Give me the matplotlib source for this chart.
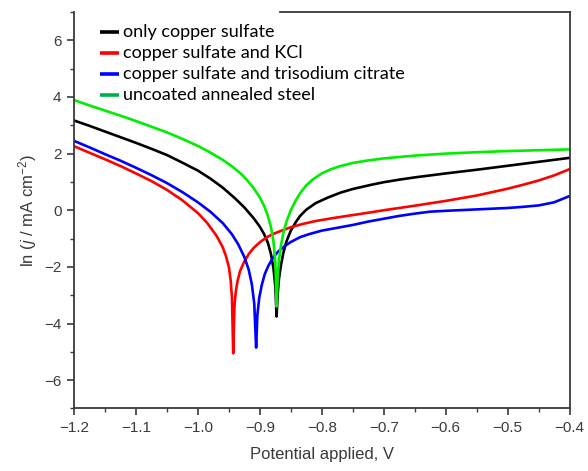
import numpy as np
import matplotlib
matplotlib.use("Agg")
import matplotlib.pyplot as plt

plt.rcParams['font.family'] = 'Liberation Sans'
plt.rcParams['mathtext.fontset'] = 'custom'
plt.rcParams['mathtext.rm'] = 'Liberation Sans'
plt.rcParams['mathtext.it'] = 'Liberation Sans:italic'

# Tafel curves: potential (V) and ln of current density
E_cu = [-1.20, -1.175, -1.15, -1.125, -1.10, -1.075, -1.05, -1.025, -1.00, -0.98, -0.96,
        -0.94, -0.925, -0.91, -0.90, -0.893, -0.887, -0.882, -0.878, -0.875, -0.873,
        -0.871, -0.869, -0.866, -0.862, -0.857, -0.85, -0.842, -0.835, -0.825, -0.81,
        -0.79, -0.77, -0.75, -0.72, -0.70, -0.675, -0.65, -0.60, -0.55, -0.50, -0.45, -0.40]
ln_cu = [3.17, 2.98, 2.78, 2.58, 2.38, 2.17, 1.95, 1.68, 1.4, 1.12, 0.8,
         0.42, 0.1, -0.28, -0.58, -0.85, -1.15, -1.55, -2.05, -2.7, -3.75,
         -2.9, -2.4, -1.95, -1.5, -1.1, -0.72, -0.42, -0.2, 0.02, 0.25,
         0.45, 0.62, 0.75, 0.9, 0.99, 1.08, 1.16, 1.3, 1.43, 1.57, 1.71, 1.85]

E_kcl = [-1.20, -1.175, -1.15, -1.125, -1.10, -1.075, -1.05, -1.025, -1.00, -0.985, -0.97,
         -0.96, -0.955, -0.95, -0.947, -0.945, -0.943,
         -0.941, -0.939, -0.936, -0.932, -0.926, -0.918, -0.91, -0.90, -0.89, -0.88,
         -0.865, -0.85, -0.83, -0.81, -0.78, -0.75, -0.72, -0.70, -0.675, -0.65, -0.60,
         -0.55, -0.50, -0.475, -0.45, -0.425, -0.40]
ln_kcl = [2.26, 2.03, 1.8, 1.56, 1.3, 1.03, 0.72, 0.35, -0.1, -0.45, -0.9,
          -1.3, -1.6, -2.0, -2.5, -3.1, -5.05,
          -3.4, -2.9, -2.5, -2.15, -1.85, -1.55, -1.33, -1.13, -0.97, -0.85,
          -0.72, -0.6, -0.48, -0.38, -0.27, -0.17, -0.07, 0.0, 0.08, 0.16, 0.33,
          0.52, 0.76, 0.9, 1.05, 1.23, 1.45]

E_cit = [-1.20, -1.175, -1.15, -1.125, -1.10, -1.075, -1.05, -1.025, -1.00, -0.98, -0.96,
         -0.945, -0.935, -0.925, -0.918, -0.913, -0.909, -0.906,
         -0.904, -0.901, -0.897, -0.892, -0.886, -0.878, -0.87, -0.86, -0.85, -0.835,
         -0.82, -0.80, -0.775, -0.75, -0.725, -0.70, -0.675, -0.65, -0.625, -0.60,
         -0.55, -0.50, -0.475, -0.45, -0.425, -0.40]
ln_cit = [2.45, 2.22, 1.98, 1.75, 1.5, 1.24, 0.96, 0.64, 0.28, -0.05, -0.45,
          -0.85, -1.2, -1.65, -2.1, -2.6, -3.3, -4.85,
          -3.7, -3.1, -2.65, -2.25, -1.95, -1.65, -1.45, -1.27, -1.12, -0.95,
          -0.84, -0.72, -0.62, -0.52, -0.4, -0.3, -0.2, -0.12, -0.05, -0.02,
          0.03, 0.08, 0.12, 0.17, 0.28, 0.5]

E_steel = [-1.20, -1.175, -1.15, -1.125, -1.10, -1.075, -1.05, -1.025, -1.00, -0.98, -0.96,
           -0.945, -0.93, -0.92, -0.91, -0.90, -0.893, -0.887, -0.882, -0.878, -0.875, -0.873,
           -0.871, -0.869, -0.866, -0.862, -0.857, -0.85, -0.842, -0.835, -0.825, -0.815,
           -0.80, -0.785, -0.77, -0.75, -0.725, -0.70, -0.675, -0.65, -0.60, -0.55,
           -0.50, -0.45, -0.40]
ln_steel = [3.89, 3.7, 3.52, 3.34, 3.15, 2.95, 2.75, 2.52, 2.27, 2.04, 1.78,
            1.55, 1.28, 1.05, 0.78, 0.45, 0.15, -0.2, -0.6, -1.1, -1.8, -3.4,
            -2.3, -1.75, -1.25, -0.8, -0.4, 0.0, 0.35, 0.6, 0.88, 1.08,
            1.3, 1.45, 1.56, 1.67, 1.76, 1.83, 1.88, 1.93, 2.0, 2.05,
            2.09, 2.12, 2.15]

labels = ['only copper sulfate', 'copper sulfate and KCl',
          'copper sulfate and trisodium citrate', 'uncoated annealed steel']

fig = plt.figure(figsize=(5.88, 4.71), dpi=100)
ax = fig.add_axes([0.1259, 0.1327, 0.8427, 0.8418])

ax.plot(E_cu, ln_cu, color='black', lw=1.9)
ax.plot(E_kcl, ln_kcl, color='#ff0000', lw=1.9)
ax.plot(E_cit, ln_cit, color='#0000ff', lw=1.9)
ax.plot(E_steel, ln_steel, color='#00ee00', lw=1.9)

ax.set_xlim(-1.2, -0.4)
ax.set_ylim(-7, 7)
ax.set_xticks(np.arange(-1.2, -0.39, 0.1))
ax.set_xticks(np.arange(-1.15, -0.4, 0.1), minor=True)
ax.set_yticks([-6, -4, -2, 0, 2, 4, 6])
ax.set_yticks([-7, -5, -3, -1, 1, 3, 5, 7], minor=True)
ax.xaxis.set_major_formatter(plt.FuncFormatter(lambda v, p: f'{v:.1f}'.replace('-', '\u2212')))

gray = '#3a3a3a'
for side in ['left', 'right', 'top', 'bottom']:
    ax.spines[side].set_color(gray)
    ax.spines[side].set_linewidth(1.3)
ax.spines['top'].set_bounds(-0.867, -0.4)
ax.tick_params(which='major', direction='out', length=5, width=1.2, color=gray,
               labelsize=11, labelcolor=gray, pad=4)
ax.tick_params(which='minor', direction='out', length=3, width=1.0, color=gray)
ax.tick_params(top=False, right=False, which='both')

ax.set_xlabel('Potential applied, V', fontsize=12, color=gray, labelpad=9)
ax.set_ylabel(r'ln ($j$ / mA cm$^{-2}$)', fontsize=12, color=gray, labelpad=4)

# legend drawn by hand in the upper left corner
handle_colors = ['black', '#ff0000', '#0000ff', '#00b050']
ys = [0.9505, 0.8965, 0.8445, 0.7915]
for lab, c, y in zip(labels, handle_colors, ys):
    ax.plot([0.052, 0.091], [y, y], color=c, lw=2.6, transform=ax.transAxes,
            solid_capstyle='butt', clip_on=False)
    ax.text(0.098, y, lab, transform=ax.transAxes, fontsize=13, va='center',
            family='Lato', color='black')

fig.savefig('out.png', dpi=100)
